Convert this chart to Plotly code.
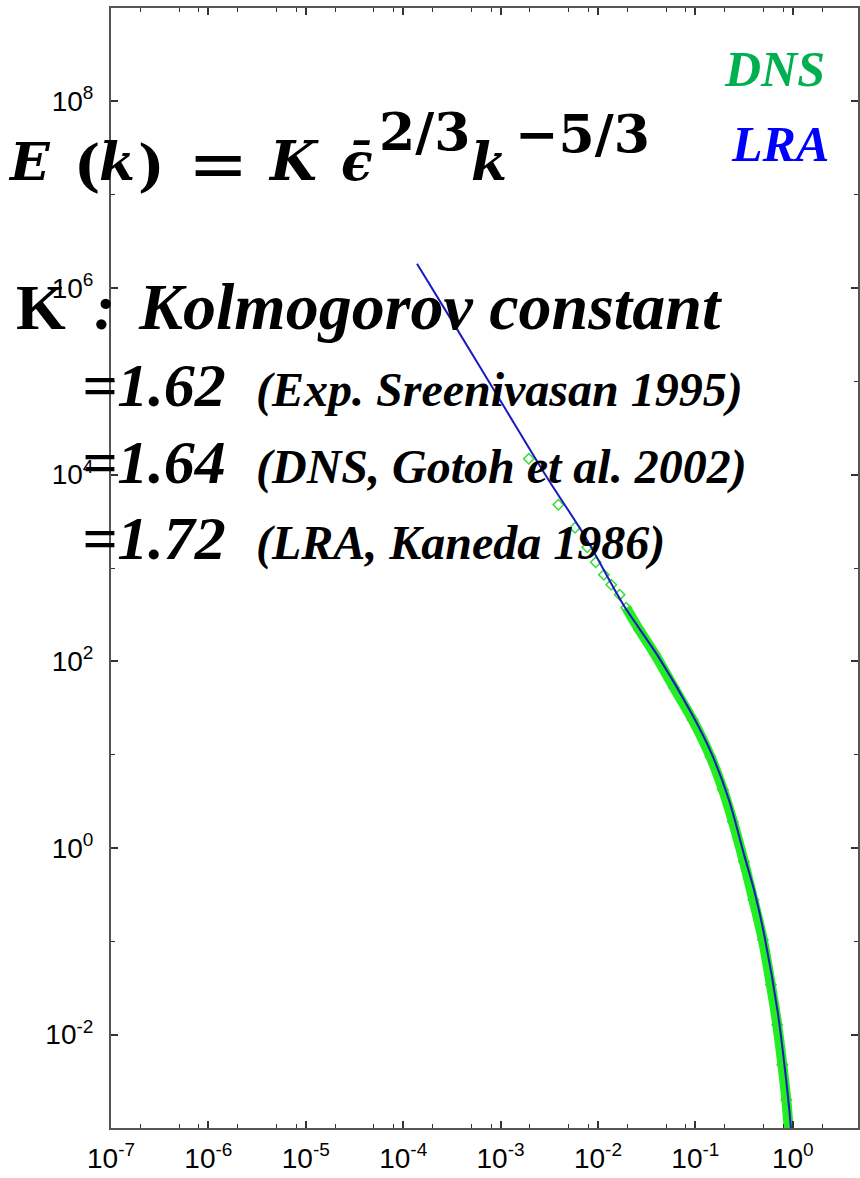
import plotly.graph_objects as go

# ---- spectra: wavenumber k (normalised) and energy spectrum E(k) ----
lra_k = [1.387e-4, 3.43e-4, 1.03e-3, 3.10e-3, 7.36e-3, 1.55e-2, 1.89e-2, 4.15e-2,
         9.10e-2, 0.146, 0.221, 0.320, 0.408, 0.513, 0.703, 0.855, 0.948, 0.966]
lra_E = [1.82e6, 3.88e5, 5.86e4, 8.83e3, 2.18e3, 540, 379, 113,
         27.9, 10.4, 3.29, 0.813, 0.330, 0.113, 0.0171, 3.29e-3, 1.13e-3, 8.5e-4]

dns_k = [1.95e-3, 3.92e-3, 5.81e-3, 7.76e-3, 9.48e-3, 1.15e-2, 1.37e-2, 1.67e-2,
         0.0195, 0.0265, 0.0386, 0.0604, 0.0935, 0.143, 0.192, 0.243, 0.315,
         0.394, 0.493, 0.596, 0.693, 0.782, 0.859, 0.910]
dns_E = [1.48e4, 4.76e3, 2.70e3, 1.67e3, 1.15e3, 847, 662, 518,
         375, 218, 118, 52.1, 23.7, 9.51, 4.21, 1.91, 0.713,
         0.279, 0.104, 0.0343, 0.0128, 4.76e-3, 2.01e-3, 9.59e-4]

# ---- axis ticks ----
x_tick_exp = [-7, -6, -5, -4, -3, -2, -1, 0]
y_tick_exp = [-2, 0, 2, 4, 6, 8]
y_minor_exp = [-1, 1, 3, 5, 7]
x_minor_mant = [2, 5, 8]

W, H = 860, 1178
L, R, T, B = 111, 0, 8, 50
PW, PH = W - L - R, H - T - B

fig = go.Figure()

# DNS: dense part rendered as a thick band, plus open-diamond markers
dense = [i for i, k in enumerate(dns_k) if k >= 0.0195]
fig.add_trace(go.Scatter(
    x=[dns_k[i] for i in dense], y=[dns_E[i] for i in dense],
    mode="lines", line=dict(color="#22ee22", width=10, shape="spline", smoothing=0.8),
    hoverinfo="skip"))
fig.add_trace(go.Scatter(
    x=dns_k, y=dns_E, mode="markers", name="DNS",
    marker=dict(symbol="diamond-open", size=8, color="#33dd33",
                line=dict(width=1.5, color="#33dd33"))))
# LRA curve
fig.add_trace(go.Scatter(
    x=lra_k, y=lra_E, mode="lines", name="LRA",
    line=dict(color="#1a1ac0", width=2, shape="spline", smoothing=0.8)))


def sup_label(e):
    return "10<sup><span style='font-size:19px'>%d</span></sup>" % e


axis_common = dict(
    type="log", showgrid=False, zeroline=False, showline=True,
    linecolor="#555555", linewidth=2, mirror="allticks",
    ticks="inside", ticklen=7, tickwidth=1.5, tickcolor="#333333",
    tickfont=dict(family="Liberation Sans, Arial", size=28, color="#000000"),
)

fig.update_xaxes(
    range=[-7, 0.67],
    tickmode="array",
    tickvals=[10.0 ** e for e in x_tick_exp],
    ticktext=[sup_label(e) for e in x_tick_exp],
    minor=dict(tickmode="array",
               tickvals=[m * 10.0 ** e for e in x_tick_exp for m in x_minor_mant],
               ticks="inside", ticklen=4, tickwidth=1.2, tickcolor="#333333",
               showgrid=False),
    ticklabelstandoff=4,
    **axis_common)
fig.update_yaxes(
    range=[-3, 9],
    tickmode="array",
    tickvals=[10.0 ** e for e in y_tick_exp],
    ticktext=[sup_label(e) for e in y_tick_exp],
    minor=dict(tickmode="array",
               tickvals=[10.0 ** e for e in y_minor_exp],
               ticks="inside", ticklen=4, tickwidth=1.2, tickcolor="#333333",
               showgrid=False),
    ticklabelstandoff=10,
    **axis_common)


def px(X):
    return (X - L) / PW


def py(Y):
    return (H - B - Y) / PH


def add_text(text, x_left, baseline, size, color="black", family="Liberation Serif",
             italic=True, bold=True):
    fig.add_annotation(
        text=text, xref="paper", yref="paper",
        x=px(x_left), y=py(baseline - 0.34 * size),
        xanchor="left", yanchor="middle", showarrow=False,
        font=dict(family=family, size=size, color=color,
                  weight="bold" if bold else "normal",
                  style="italic" if italic else "normal"))


# Kolmogorov spectrum formula, E(k) = K eps^(2/3) k^(-5/3)
F = "DejaVu Serif"
formula = [
    ("E", 6, 179, 52, True, True),
    ("(", 72, 184, 56, False, True),
    ("k", 97, 179, 52, True, True),
    (")", 136, 184, 56, False, True),
    ("=", 186, 188, 72, False, False),
    ("K", 266, 179, 54, True, True),
    ("\u03f5\u0304", 340, 179, 52, True, True),
    ("2/3", 378, 149, 52, False, True),
    ("k", 470, 179, 52, True, True),
    ("\u22125/3", 514, 151, 52, False, True),
]
for txt, xl, bl, sz, it, bd in formula:
    add_text(txt, xl, bl, sz, family=F, italic=it, bold=bd)

# series labels
add_text("DNS", 724, 86, 50, color="#00b050")
add_text("LRA", 731, 161, 50, color="#0000ff")

# Kolmogorov constant values
add_text("K", 14, 329, 64, italic=False)
add_text(":", 92, 329, 64)
add_text("Kolmogorov constant", 136, 329, 66)
values = [("=1.62", "(Exp. Sreenivasan 1995)", 406),
          ("=1.64", "(DNS, Gotoh et al. 2002)", 483),
          ("=1.72", "(LRA, Kaneda 1986)", 559)]
for val, ref, bl in values:
    add_text(val, 80, bl, 62)
    add_text(ref, 254, bl, 48)

fig.update_layout(
    width=W, height=H, margin=dict(l=L, r=R, t=T, b=B),
    paper_bgcolor="white", plot_bgcolor="white", showlegend=False)

fig.write_html("out.html")
